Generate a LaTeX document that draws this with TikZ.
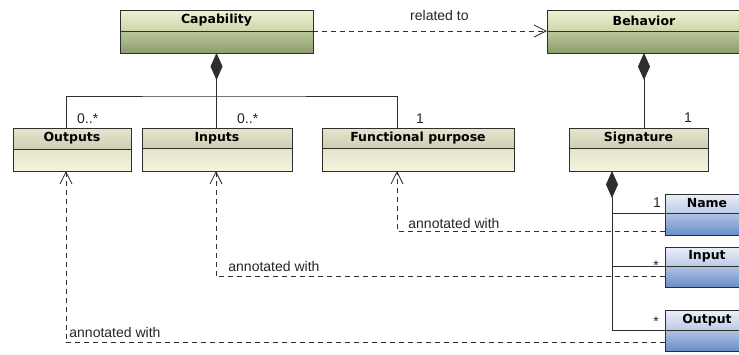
\documentclass[tikz,border=0pt]{standalone}
\usepackage{fontspec}
\setmainfont{Liberation Sans}
\newfontfamily\titlefont{DejaVu Sans}
\usetikzlibrary{arrows.meta}

\definecolor{olvTopA}{HTML}{F0F0D4}
\definecolor{olvTopB}{HTML}{CDD5AA}
\definecolor{olvBotA}{HTML}{BCC89C}
\definecolor{olvBotB}{HTML}{8C9C6B}
\definecolor{sndTopA}{HTML}{E6E4CD}
\definecolor{sndTopB}{HTML}{CFCDB3}
\definecolor{sndBotA}{HTML}{E4E3CA}
\definecolor{sndBotB}{HTML}{F4F3DF}
\definecolor{bluTopA}{HTML}{EAEFF8}
\definecolor{bluTopB}{HTML}{BDCBE6}
\definecolor{bluBotA}{HTML}{B2C5E4}
\definecolor{bluBotB}{HTML}{6A8DC6}
\definecolor{edge}{HTML}{2E2E2E}

\tikzset{
  part/.style={rectangle, draw=edge, line width=1pt, inner sep=0pt, outer sep=0pt, anchor=north west},
  ttl/.style={font=\titlefont\bfseries\fontsize{12.5}{14}\selectfont},
  olvhead/.style={part, ttl, top color=olvTopA, bottom color=olvTopB},
  olvbody/.style={part, top color=olvBotA, bottom color=olvBotB},
  sndhead/.style={part, ttl, top color=sndTopA, bottom color=sndTopB},
  sndbody/.style={part, top color=sndBotA, bottom color=sndBotB},
  bluhead/.style={part, ttl, top color=bluTopA, bottom color=bluTopB},
  blubody/.style={part, top color=bluBotA, bottom color=bluBotB},
  link/.style={draw=edge, line width=0.8pt},
  comp/.style={link, {Diamond[length=27pt,width=12pt]}-},
  dep/.style={link, dash pattern=on 5pt off 4pt, -{Straight Barb[length=12pt,width=12pt]}},
  lbl/.style={font=\fontsize{14}{16}\selectfont, text=black!85, inner sep=0pt},
}

\begin{document}
\begin{tikzpicture}[x=1pt,y=-1pt]
\clip (0,0) rectangle (739,354);
\fill[white] (0,0) rectangle (739,354);

% top-level classes
\node[olvhead, minimum width=193pt, minimum height=21pt] (cap) at (120,10) {Capability};
\node[olvbody, minimum width=193pt, minimum height=22pt] (capb) at (cap.south west) {};
\node[olvhead, minimum width=194pt, minimum height=21pt] (beh) at (547,10) {Behavior};
\node[olvbody, minimum width=194pt, minimum height=22pt] (behb) at (beh.south west) {};

% parts of Capability
\node[sndhead, minimum width=118pt, minimum height=21pt] (outs) at (13,128) {Outputs};
\node[sndbody, minimum width=118pt, minimum height=22pt] (outsb) at (outs.south west) {};
\node[sndhead, minimum width=150pt, minimum height=20pt] (ins) at (142,128) {Inputs};
\node[sndbody, minimum width=150pt, minimum height=23pt] (insb) at (ins.south west) {};
\node[sndhead, minimum width=192pt, minimum height=20pt] (fp) at (322,128) {Functional purpose};
\node[sndbody, minimum width=192pt, minimum height=23pt] (fpb) at (fp.south west) {};

% Signature
\node[sndhead, minimum width=139pt, minimum height=20pt] (sig) at (569,128) {Signature};
\node[sndbody, minimum width=139pt, minimum height=23pt] (sigb) at (sig.south west) {};

% parts of Signature
\node[bluhead, minimum width=84pt, minimum height=19pt] (nm) at (665,194) {Name};
\node[blubody, minimum width=84pt, minimum height=22pt] (nmb) at (nm.south west) {};
\node[bluhead, minimum width=84pt, minimum height=19pt] (inp) at (665,247) {Input};
\node[blubody, minimum width=84pt, minimum height=21pt] (inpb) at (inp.south west) {};
\node[bluhead, minimum width=84pt, minimum height=20pt] (outp) at (665,310) {Output};
\node[blubody, minimum width=84pt, minimum height=21pt] (outpb) at (outp.south west) {};

% related to
\draw[dep] (capb.north east) -- (behb.north west);
\node[lbl, anchor=base west] (rel) at ([xshift=97pt,yshift=11pt]capb.north east) {related to};

% composition of Capability
\coordinate (jc) at (216.5,96);
\draw[comp] (capb.south) -- (capb.south |- ins.north);
\draw[link] ([xshift=-6pt]outs.north) |- (jc) -| ([xshift=-21pt]fp.north);
\node[lbl, anchor=base west] (m1) at ([xshift=5pt,yshift=5pt]outs.north) {0..*};
\node[lbl, anchor=base west] (m2) at ([xshift=20pt,yshift=5pt]ins.north) {0..*};
\node[lbl, anchor=base west] (m3) at ([xshift=-2pt,yshift=5pt]fp.north) {1};

% composition of Behavior
\draw[comp] (behb.south) -- (behb.south |- sig.north);
\node[lbl, anchor=base west] (m4) at ([xshift=45.5pt,yshift=6pt]sig.north) {1};

% composition of Signature
\coordinate (sd) at ([xshift=43pt]sigb.south west);
\draw[comp] (sd) |- (outpb.north west);
\draw[link] (sd |- nmb.north west) -- (nmb.north west);
\draw[link] (sd |- inpb.north west) -- (inpb.north west);
\node[lbl, anchor=base east] (m5) at ([xshift=-4pt,yshift=6pt]nmb.north west) {1};
\node[lbl, anchor=base east] (m6) at ([xshift=-6pt,yshift=-4pt]inpb.north west) {*};
\node[lbl, anchor=base east] (m7) at ([xshift=-6pt,yshift=4pt]outpb.north west) {*};

% annotations
\draw[dep] ([yshift=-7pt]nmb.west) -| node[lbl, pos=0.5, anchor=base west, xshift=11pt, yshift=3pt] (a1) {annotated with} ([xshift=-21pt]fpb.south);
\draw[dep] (inpb.west) -| node[lbl, pos=0.5, anchor=base west, xshift=12pt, yshift=5pt] (a2) {annotated with} ([xshift=-1pt]insb.south);
\draw[dep] ([yshift=-2pt]outpb.west) -| node[lbl, pos=0.5, anchor=base west, xshift=3pt, yshift=5pt] (a3) {annotated with} ([xshift=-6pt]outsb.south);
\end{tikzpicture}
\end{document}
